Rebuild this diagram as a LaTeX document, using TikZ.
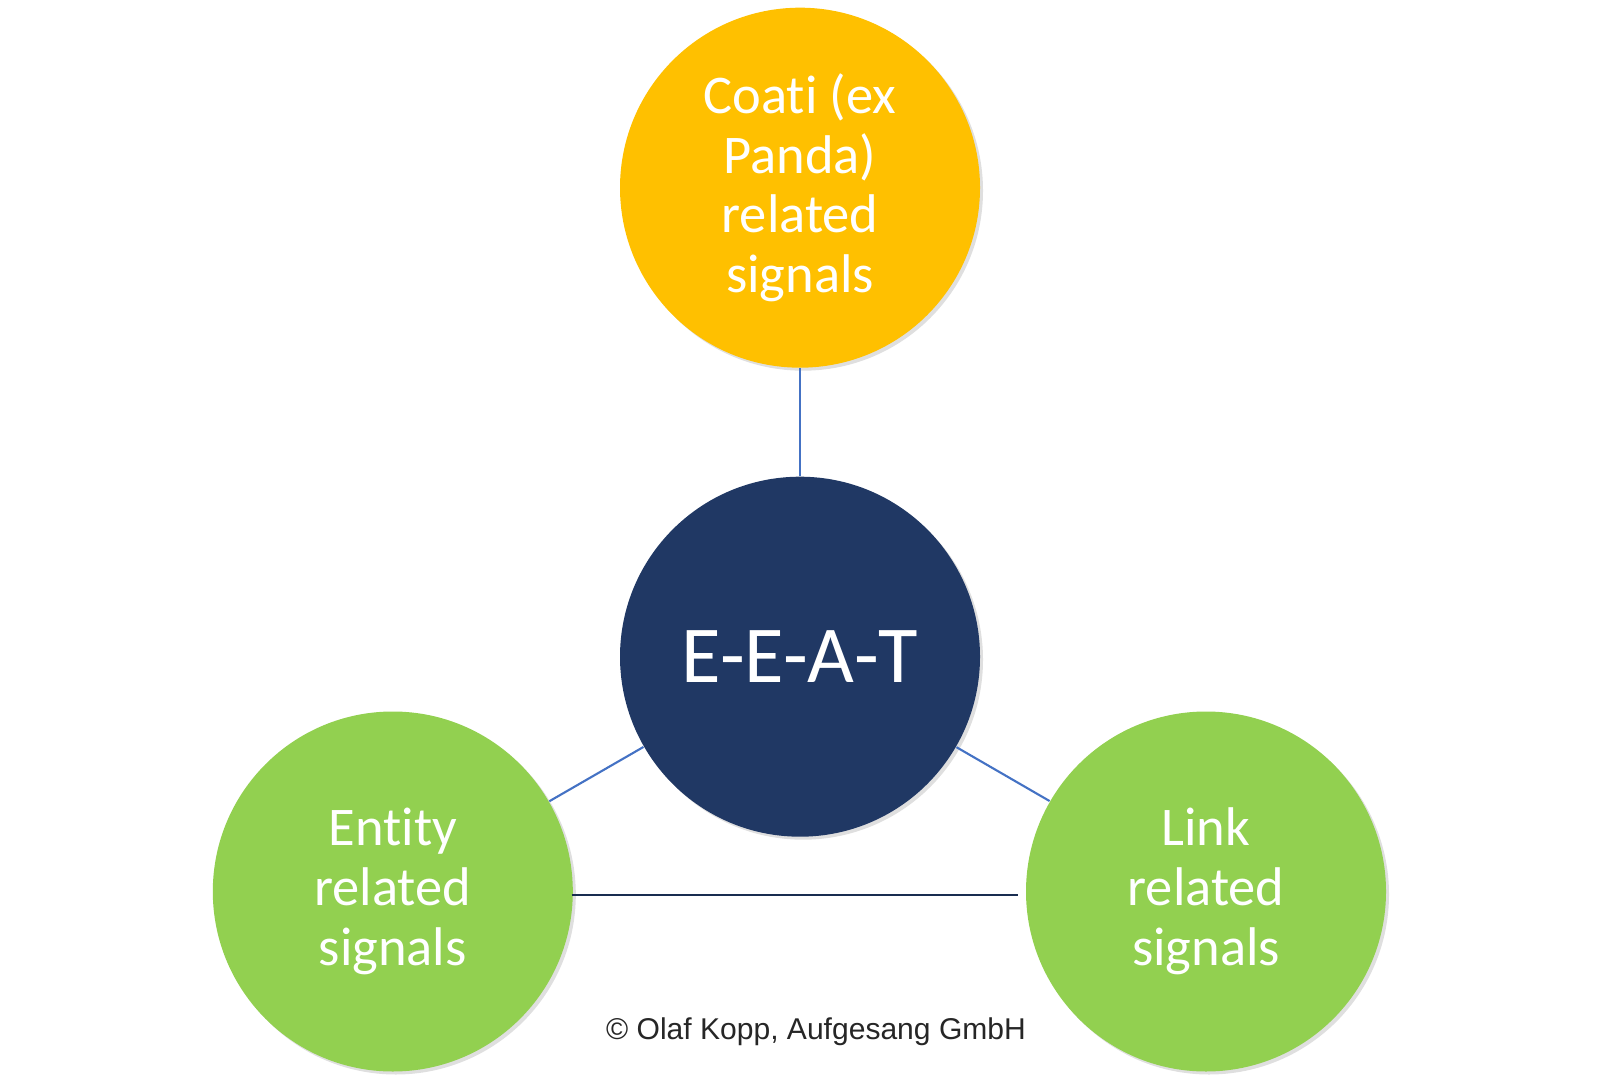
\documentclass[tikz,border=0pt]{standalone}
\usepackage{fontspec}
\setmainfont{Carlito}[Ligatures=NoCommon]
\newfontfamily\notefont{Liberation Sans}
\usepackage{xcolor}
\usepackage{tikz}
\usetikzlibrary{calc, positioning, shadows}

\definecolor{coatiyellow}{HTML}{FFC000}
\definecolor{eeatnavy}{HTML}{203864}
\definecolor{signalgreen}{HTML}{92D050}
\definecolor{linkblue}{HTML}{4472C4}

\begin{document}
\begin{tikzpicture}[
    bubble/.style={circle, minimum size=3.6cm, inner sep=0pt, text=white,
        align=center, font=\fontsize{15.5}{17}\selectfont,
        drop shadow={shadow xshift=0.03cm, shadow yshift=-0.03cm, opacity=0.25}},
    spoke/.style={linkblue, line width=0.6pt}
]
    \useasboundingbox (0,0) rectangle (16,10.88);

    % 1. Vòng tròn trung tâm
    \node[bubble, fill=eeatnavy, font=\fontsize{23}{27}\selectfont] (eeat) at (8,4.313) {E-E-A-T};

    % 2. Ba vòng tròn tín hiệu
    \node[bubble, fill=coatiyellow] (coati) at (8,9.003) {Coati (ex\\Panda)\\related\\signals};
    \node[bubble, fill=signalgreen] (entity) at (3.928,1.965) {Entity\\related\\signals};
    \node[bubble, fill=signalgreen] (link) at (12.06,1.965) {Link\\related\\signals};

    % 3. Các đường nối
    \draw[spoke] (coati) -- (eeat);
    \draw[spoke] (eeat) -- (entity);
    \draw[spoke] (eeat) -- (link);

    % Đường ngang giữa hai vòng xanh
    \coordinate[left=0.07cm of link.west] (linkgap);
    \draw[eeatnavy!80!black, line width=0.6pt] ($(entity.east)+(-0.02,-0.035)$) -- ($(linkgap)+(0,-0.035)$);

    % 4. Ghi chú bản quyền
    \node[font=\notefont\fontsize{8.55}{10}\selectfont, text=black!85] (copy) at (8.16,0.56) {© Olaf Kopp, Aufgesang GmbH};

\end{tikzpicture}
\end{document}
